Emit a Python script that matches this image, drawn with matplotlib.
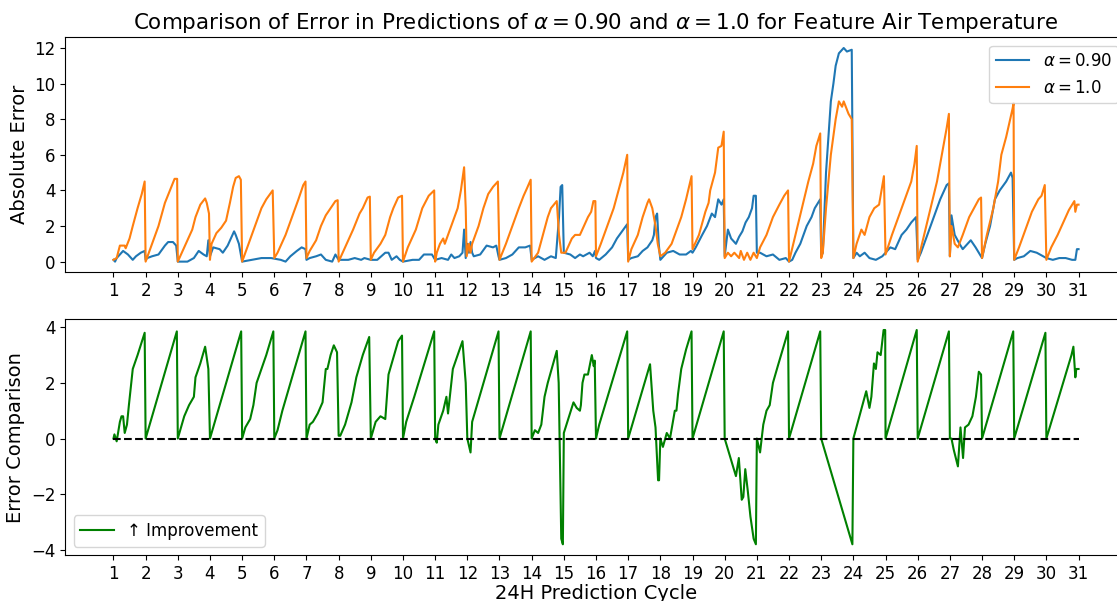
"""Absolute error of alpha=0.90 vs alpha=1.0 predictions (air temperature),
and their difference, over 30 consecutive 24h prediction cycles."""
import numpy as np
import matplotlib
matplotlib.use("Agg")
import matplotlib.pyplot as plt

# x positions are in prediction-cycle units (cycle k starts at x = k)
ORANGE_X = [1.0, 1.1, 1.2, 1.35, 1.38, 1.5, 1.6, 1.75, 1.88, 1.97, 2.0,
            2.2, 2.4, 2.6, 2.8, 2.9, 2.98, 3.0,
            3.25, 3.45, 3.55, 3.7, 3.85, 3.9, 3.97, 4.0,
            4.05, 4.2, 4.35, 4.5, 4.62, 4.72, 4.8, 4.9, 4.96, 5.0,
            5.2, 5.4, 5.6, 5.75, 5.95, 6.0,
            6.1, 6.35, 6.55, 6.75, 6.9, 6.97, 7.0,
            7.1, 7.3, 7.45, 7.6, 7.75, 7.9, 7.97, 8.0,
            8.2, 8.45, 8.65, 8.75, 8.9, 8.97, 9.0,
            9.1, 9.3, 9.45, 9.6, 9.7, 9.85, 9.97, 10.0,
            10.15, 10.4, 10.6, 10.8, 10.97, 11.0,
            11.05, 11.15, 11.25, 11.3, 11.5, 11.7, 11.8, 11.9, 11.95, 11.98,
            12.05, 12.1, 12.15, 12.35, 12.5, 12.65, 12.8, 12.95, 13.0,
            13.2, 13.4, 13.6, 13.75, 13.85, 13.97, 14.0,
            14.2, 14.35, 14.5, 14.6, 14.78, 14.85, 14.92, 15.0,
            15.05, 15.25, 15.35, 15.5, 15.6, 15.75, 15.85, 15.92, 15.98, 16.0,
            16.15, 16.35, 16.55, 16.7, 16.85, 16.97, 17.0,
            17.1, 17.3, 17.45, 17.6, 17.65, 17.75, 17.85, 17.92, 18.0,
            18.15, 18.35, 18.45, 18.65, 18.8, 18.97, 19.0,
            19.2, 19.4, 19.5, 19.55, 19.7, 19.8, 19.9, 19.97, 20.0,
            20.1, 20.2, 20.3, 20.45, 20.5, 20.6, 20.7, 20.8, 20.9, 21.0,
            21.1, 21.3, 21.5, 21.7, 21.85, 21.97, 22.0,
            22.2, 22.4, 22.6, 22.75, 22.85, 22.97, 23.0,
            23.05, 23.15, 23.3, 23.45, 23.55, 23.65, 23.7, 23.85, 23.95, 24.0,
            24.1, 24.25, 24.35, 24.5, 24.65, 24.8, 24.95, 25.0,
            25.2, 25.4, 25.6, 25.8, 25.9, 25.97, 26.0,
            26.2, 26.4, 26.6, 26.75, 26.9, 26.97, 27.0,
            27.05, 27.15, 27.25, 27.4, 27.5, 27.6, 27.75, 27.9, 27.97, 28.0,
            28.15, 28.35, 28.5, 28.6, 28.75, 28.85, 28.95, 28.98, 29.0,
            29.15, 29.35, 29.55, 29.75, 29.85, 29.95, 30.0,
            30.15, 30.35, 30.55, 30.7, 30.8, 30.87, 30.9, 30.95, 31.0]
ORANGE_Y = [0.1, 0.2, 0.9, 0.9, 0.75, 1.3, 2.0, 3.0, 3.8, 4.5, 0.0,
            1.0, 2.0, 3.3, 4.2, 4.65, 4.65, 0.0,
            1.0, 1.8, 2.5, 3.2, 3.55, 3.3, 2.7, 0.1,
            1.0, 1.6, 1.9, 2.3, 3.3, 4.2, 4.7, 4.8, 4.6, 0.0,
            1.0, 2.0, 3.0, 3.5, 4.0, 0.2,
            0.5, 1.5, 2.5, 3.5, 4.3, 4.5, 0.2,
            0.6, 1.2, 2.0, 2.6, 3.0, 3.4, 3.45, 0.0,
            0.8, 1.8, 2.7, 3.0, 3.6, 3.65, 0.1,
            0.5, 1.0, 1.5, 2.5, 3.0, 3.6, 3.7, 0.0,
            0.8, 1.8, 3.0, 3.7, 4.0, 0.0,
            0.5, 1.0, 1.3, 1.0, 2.0, 3.0, 4.0, 5.3, 3.0, 0.3,
            1.0, 0.5, 1.0, 2.0, 3.0, 3.8, 4.2, 4.5, 0.1,
            1.0, 2.0, 3.0, 3.7, 4.1, 4.6, 0.0,
            0.5, 1.5, 2.5, 3.0, 3.4, 1.5, 0.5, 0.5,
            0.5, 1.3, 1.5, 1.5, 1.9, 2.5, 2.8, 3.4, 3.4, 0.3,
            1.0, 2.0, 3.0, 4.0, 5.0, 6.0, 0.0,
            0.7, 1.5, 2.5, 3.3, 3.5, 3.0, 2.0, 1.0, 0.3,
            0.5, 1.0, 1.5, 2.5, 3.5, 4.8, 0.7,
            1.5, 2.8, 3.3, 4.0, 5.0, 6.4, 6.5, 7.3, 0.2,
            0.5, 0.3, 0.5, 0.2, 0.6, 0.1, 0.5, 0.1, 0.5, 0.2,
            0.8, 1.5, 2.5, 3.2, 3.7, 4.0, 0.0,
            1.5, 3.0, 4.5, 5.5, 6.5, 7.2, 0.2,
            0.5, 3.0, 6.0, 8.0, 9.0, 8.7, 9.0, 8.3, 8.0, 0.2,
            1.0, 1.8, 1.5, 2.5, 3.0, 3.2, 4.8, 0.4,
            1.5, 2.5, 3.5, 4.5, 5.5, 6.5, 0.0,
            1.5, 3.0, 4.5, 6.0, 7.5, 8.3, 0.3,
            2.0, 1.0, 0.8, 1.5, 2.0, 2.5, 3.0, 3.5, 3.6, 0.2,
            1.5, 3.0, 4.5, 6.0, 7.0, 7.8, 8.6, 8.9, 0.1,
            0.8, 1.8, 2.8, 3.5, 3.7, 4.3, 0.1,
            0.8, 1.5, 2.3, 2.9, 3.2, 3.4, 2.8, 3.2, 3.2]

BLUE_X = [1.0, 1.05, 1.1, 1.3, 1.45, 1.6, 1.7, 1.85, 1.97, 2.0,
          2.05, 2.2, 2.4, 2.6, 2.7, 2.85, 2.95, 3.0,
          3.3, 3.5, 3.65, 3.8, 3.9, 3.95, 4.0,
          4.1, 4.3, 4.4, 4.55, 4.65, 4.75, 4.8, 4.9, 4.97, 5.0,
          5.3, 5.6, 5.9, 6.2, 6.35, 6.5, 6.7, 6.85, 6.97, 7.0,
          7.1, 7.3, 7.45, 7.6, 7.8, 7.9, 8.0,
          8.3, 8.5, 8.7, 8.8, 9.0,
          9.2, 9.45, 9.55, 9.65, 9.8, 9.9, 10.0,
          10.3, 10.5, 10.65, 10.9, 11.0,
          11.2, 11.4, 11.5, 11.6, 11.75, 11.85, 11.9, 11.95, 12.0, 12.05,
          12.1, 12.15,
          12.2, 12.4, 12.6, 12.8, 12.9, 12.97, 13.0,
          13.2, 13.4, 13.6, 13.8, 13.95, 14.0,
          14.2, 14.4, 14.6, 14.75, 14.85, 14.9, 14.95, 15.0,
          15.2, 15.35, 15.5, 15.6, 15.8, 15.9, 15.97, 16.0,
          16.1, 16.3, 16.5, 16.65, 16.85, 16.97, 17.0,
          17.1, 17.3, 17.45, 17.6, 17.75, 17.8, 17.85, 17.9, 17.95, 18.0,
          18.1, 18.2, 18.4, 18.6, 18.8, 18.95, 19.0,
          19.1, 19.3, 19.45, 19.6, 19.7, 19.8, 19.9, 19.97, 20.0,
          20.1, 20.2, 20.35, 20.45, 20.55, 20.65, 20.75, 20.85, 20.9, 20.97,
          21.0,
          21.1, 21.3, 21.5, 21.7, 21.9, 22.0,
          22.1, 22.2, 22.35, 22.55, 22.7, 22.8, 22.97, 23.0,
          23.05, 23.15, 23.3, 23.38, 23.45, 23.55, 23.7, 23.8, 23.95, 24.0,
          24.1, 24.2, 24.35, 24.5, 24.7, 24.9, 25.0,
          25.15, 25.3, 25.5, 25.65, 25.8, 25.95, 26.0,
          26.1, 26.3, 26.5, 26.7, 26.9, 26.97, 27.0,
          27.05, 27.15, 27.3, 27.4, 27.55, 27.65, 27.8, 27.9, 28.0,
          28.1, 28.25, 28.4, 28.55, 28.75, 28.9, 28.95, 29.0,
          29.1, 29.3, 29.5, 29.7, 29.9, 30.0,
          30.2, 30.4, 30.6, 30.8, 30.9, 30.95, 31.0]
BLUE_Y = [0.1, 0.0, 0.2, 0.6, 0.4, 0.1, 0.3, 0.5, 0.6, 0.1,
          0.2, 0.3, 0.4, 0.9, 1.1, 1.1, 0.9, 0.0,
          0.0, 0.2, 0.6, 0.4, 0.3, 1.2, 0.3,
          0.8, 0.7, 0.5, 0.9, 1.3, 1.7, 1.5, 1.0, 0.3, 0.0,
          0.1, 0.2, 0.2, 0.1, 0.0, 0.3, 0.6, 0.8, 0.7, 0.1,
          0.2, 0.3, 0.4, 0.1, 0.0, 0.4, 0.1,
          0.1, 0.2, 0.1, 0.2, 0.1,
          0.1, 0.5, 0.5, 0.1, 0.3, 0.1, 0.0,
          0.1, 0.1, 0.4, 0.4, 0.1,
          0.2, 0.1, 0.4, 0.2, 0.3, 0.5, 1.8, 0.2, 1.0, 0.5,
          1.1, 0.5,
          0.3, 0.4, 0.9, 0.8, 0.9, 0.3, 0.1,
          0.2, 0.4, 0.8, 0.8, 0.9, 0.1,
          0.3, 0.1, 0.3, 0.2, 2.5, 4.2, 4.3, 0.5,
          0.4, 0.2, 0.4, 0.3, 0.5, 0.3, 0.6, 0.2,
          0.1, 0.4, 0.8, 1.3, 1.8, 2.1, 0.1,
          0.2, 0.3, 0.6, 0.8, 1.2, 1.5, 2.5, 2.7, 1.0, 0.1,
          0.3, 0.5, 0.6, 0.4, 0.4, 0.6, 0.5,
          0.8, 1.5, 2.0, 2.7, 2.5, 3.5, 3.2, 3.5, 0.3,
          1.8, 1.3, 1.0, 1.4, 1.7, 2.2, 2.5, 3.0, 3.7, 3.7,
          0.5,
          0.5, 0.3, 0.4, 0.1, 0.2, 0.0,
          0.1, 0.5, 1.0, 2.0, 2.5, 3.0, 3.5, 0.3,
          0.5, 5.0, 9.0, 10.0, 11.0, 11.7, 12.0, 11.8, 11.9, 0.2,
          0.5, 0.3, 0.5, 0.2, 0.1, 0.3, 0.5,
          0.8, 0.7, 1.5, 1.8, 2.2, 2.5, 0.1,
          0.5, 1.5, 2.5, 3.5, 4.3, 4.4, 0.3,
          2.6, 1.5, 1.0, 0.7, 1.0, 1.2, 0.8, 0.5, 0.2,
          1.0, 2.0, 3.5, 4.0, 4.5, 5.0, 4.7, 0.1,
          0.2, 0.3, 0.6, 0.5, 0.3, 0.2,
          0.1, 0.2, 0.2, 0.1, 0.1, 0.7, 0.7]

DIFF_X = [1.0, 1.03, 1.1, 1.2, 1.25, 1.3, 1.35, 1.42, 1.48, 1.6, 1.75, 1.97,
          2.0, 2.97, 3.0,
          3.2, 3.35, 3.5, 3.55, 3.7, 3.85, 3.95, 4.0,
          4.97, 5.0,
          5.1, 5.25, 5.35, 5.45, 5.6, 5.75, 5.97, 6.0,
          6.1, 6.25, 6.97, 7.0,
          7.1, 7.2, 7.35, 7.5, 7.6, 7.65, 7.75, 7.85, 7.95, 8.0,
          8.05, 8.2, 8.4, 8.55, 8.75, 8.95, 9.0,
          9.15, 9.3, 9.45, 9.55, 9.85, 9.97, 10.0,
          10.1, 10.35, 10.97, 11.0,
          11.05, 11.1, 11.25, 11.35, 11.4, 11.55, 11.85, 11.95, 12.0,
          12.1, 12.15, 12.97, 13.0,
          13.97, 14.0,
          14.1, 14.2, 14.3, 14.4, 14.5, 14.78, 14.84, 14.92, 14.97, 15.0,
          15.3, 15.4, 15.5, 15.53, 15.58, 15.64, 15.75, 15.87, 15.93, 15.96,
          16.0,
          16.1, 16.97, 17.0,
          17.68, 17.78, 17.85, 17.93, 17.96, 18.0, 18.08, 18.2, 18.3,
          18.45, 18.5, 18.55, 18.65, 18.8, 18.97, 19.0,
          19.97, 20.0,
          20.35, 20.44, 20.53, 20.58, 20.64, 20.72, 20.8, 20.9, 20.97, 21.0,
          21.1, 21.2, 21.3, 21.4, 21.5, 21.65, 21.97, 22.0,
          22.97, 23.0, 23.97, 24.0,
          24.4, 24.5, 24.56, 24.64, 24.7, 24.75, 24.85, 24.94, 24.99, 25.0,
          25.97, 26.0, 26.97, 27.0,
          27.05, 27.12, 27.25, 27.33, 27.41, 27.47, 27.58, 27.7, 27.81, 27.9,
          27.97, 28.0,
          28.97, 29.0, 29.97, 30.0,
          30.78, 30.84, 30.9, 30.93, 31.0]
DIFF_Y = [0.0, 0.15, -0.1, 0.6, 0.8, 0.8, 0.2, 0.5, 1.2, 2.5, 3.0, 3.8,
          0.0, 3.85, 0.0,
          0.8, 1.2, 1.5, 2.2, 2.7, 3.3, 2.5, 0.0,
          3.85, 0.0,
          0.4, 0.7, 1.2, 2.0, 2.5, 3.0, 3.85, 0.0,
          0.3, 1.0, 3.85, 0.0,
          0.5, 0.6, 0.9, 1.3, 2.5, 2.5, 3.0, 3.35, 3.1, 0.1,
          0.1, 0.5, 1.3, 2.2, 3.0, 3.65, 0.0,
          0.6, 0.8, 0.7, 2.3, 3.5, 3.7, 0.0,
          0.6, 1.5, 3.85, 0.0,
          -0.15, 0.5, 1.0, 1.5, 0.9, 2.5, 3.5, 2.0, 0.0,
          -0.5, 0.6, 3.85, 0.0,
          3.85, 0.0,
          0.3, 0.2, 0.5, 1.5, 2.0, 3.15, 2.0, -3.6, -3.8, 0.2,
          1.3, 1.1, 1.0, 1.2, 2.0, 2.3, 2.3, 3.0, 2.6, 2.8,
          0.0,
          0.5, 3.85, 0.0,
          2.67, 1.0, 0.4, -1.5, -1.5, 0.0, -0.3, 0.2, 0.0,
          1.0, 1.0, 1.6, 2.5, 3.2, 3.85, 0.0,
          3.85, 0.0,
          -1.35, -0.7, -2.2, -2.1, -1.1, -1.9, -2.8, -3.6, -3.8, 0.0,
          -0.5, 0.5, 1.0, 1.2, 2.0, 2.6, 3.85, 0.0,
          3.85, 0.0, -3.8, 0.0,
          1.7, 1.1, 1.5, 2.7, 2.5, 3.1, 3.0, 3.9, 3.9, 0.0,
          3.9, 0.0, 3.85, 0.0,
          -0.0, -0.4, -1.0, 0.4, -0.7, 0.4, 0.5, 0.8, 1.5, 2.4,
          2.3, 0.0,
          3.85, 0.0, 3.8, 0.0,
          3.0, 3.3, 2.2, 2.5, 2.5]

CYCLES = list(range(1, 32))

plt.rcParams["font.family"] = "DejaVu Sans"

fig = plt.figure(figsize=(11.17, 6.01), dpi=100)
W, H = 1117.0, 601.0
# the original figure was cropped on the right, axes run past the edge
ax1 = fig.add_axes([65.2 / W, (H - 272.3) / H, 1061.6 / W, 235.0 / H])
ax2 = fig.add_axes([65.2 / W, (H - 555.0) / H, 1061.6 / W, 235.7 / H])

ax1.plot(BLUE_X, BLUE_Y, color="#1f77b4", lw=1.5, label=r"$\alpha=0.90$")
ax1.plot(ORANGE_X, ORANGE_Y, color="#ff7f0e", lw=1.5, label=r"$\alpha=1.0$")
ax1.set_ylabel("Absolute Error", fontsize=14)
ax1.set_title(r"Comparison of Error in Predictions of $\alpha=0.90$ and "
              r"$\alpha=1.0$ for Feature Air Temperature", fontsize=15.4)
ax1.legend(loc="upper right", fontsize=12)

ax2.plot(DIFF_X, DIFF_Y, color="green", lw=1.5, label="\u2191 Improvement")
ax2.hlines(0, CYCLES[0], CYCLES[-1], colors="black", linestyles="--", lw=1.5)
ax2.set_ylabel("Error Comparison", fontsize=14)
ax2.set_xlabel("24H Prediction Cycle", fontsize=14, labelpad=1)
ax2.legend(loc="lower left", fontsize=12)

for ax in (ax1, ax2):
    ax.set_xticks(CYCLES)
    ax.set_xticklabels([str(c) for c in CYCLES])
    ax.set_xlim(-0.5, 32.5)
    ax.tick_params(labelsize=12)

ax1.set_yticks([0, 2, 4, 6, 8, 10, 12])
ax2.set_yticks([-4, -2, 0, 2, 4])

fig.savefig("out.png", dpi=100)
